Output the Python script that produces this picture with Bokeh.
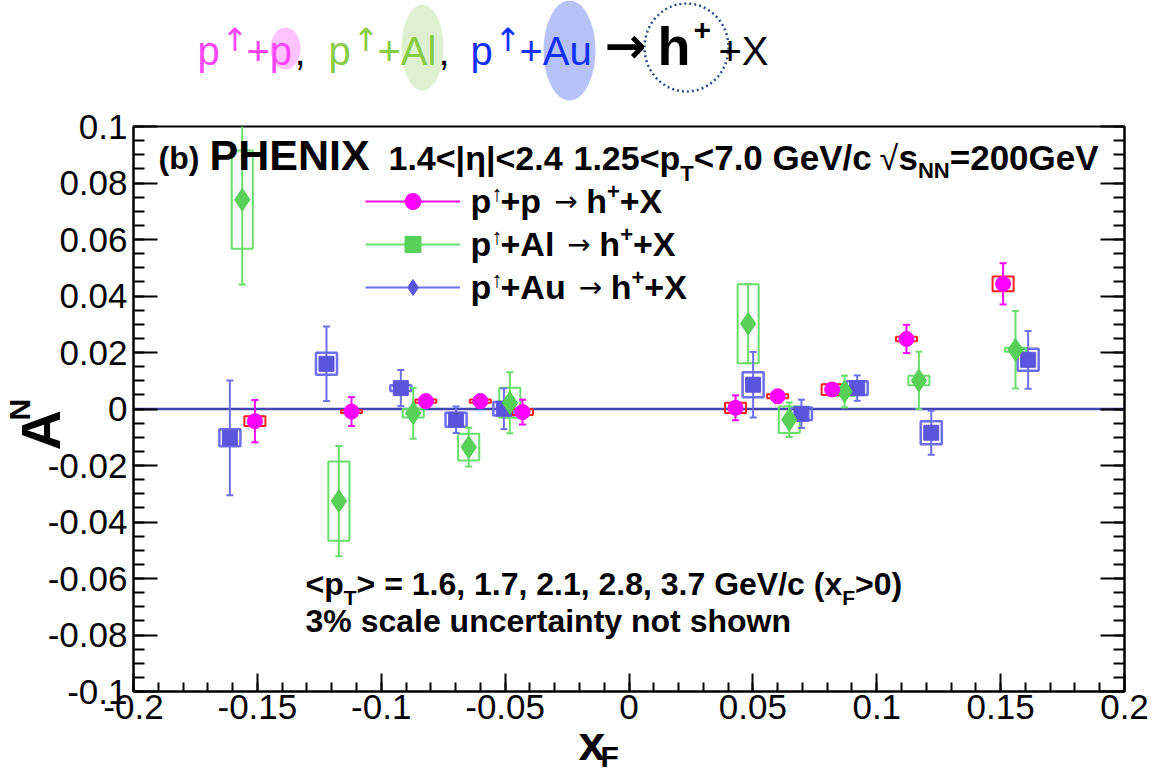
import numpy as np
from bokeh.plotting import figure
from bokeh.models import (Range1d, LinearAxis, FixedTicker, ColumnDataSource,
                          Label, Legend, LegendItem, Span, Title)
from bokeh.layouts import column
from bokeh.embed import file_html
from bokeh.resources import INLINE
from bokeh.core.properties import value

# ---------------- data ----------------
# p(up)+p -> h+ X
pp_x = [-0.151, -0.112, -0.082, -0.060, -0.043, 0.043, 0.060, 0.082, 0.112, 0.151]
pp_y = [-0.0043, -0.0009, 0.0028, 0.0028, -0.0011, 0.0004, 0.0045, 0.0069, 0.0248, 0.0443]
pp_stat = [0.0075, 0.0051, 0.0022, 0.0022, 0.0044, 0.0044, 0.0022, 0.0022, 0.0050, 0.0073]
pp_sys = [0.0017, 0.0005, 0.0006, 0.0006, 0.0010, 0.0018, 0.0007, 0.0019, 0.0008, 0.0026]

# p(up)+Al -> h+ X
al_x = [-0.1561, -0.1171, -0.0871, -0.0647, -0.0481, 0.0481, 0.0647, 0.0870, 0.1170, 0.1560]
al_y = [0.0741, -0.0326, -0.0015, -0.0135, 0.0022, 0.0302, -0.0038, 0.0062, 0.0101, 0.0210]
al_stat = [0.0300, 0.0195, 0.0090, 0.0069, 0.0108, 0.0140, 0.0061, 0.0056, 0.0102, 0.0137]
al_sys = [0.0174, 0.0140, 0.0015, 0.0047, 0.0053, 0.0140, 0.0047, 0.0015, 0.0017, 0.0007]

# p(up)+Au -> h+ X
au_x = [-0.1611, -0.1221, -0.0921, -0.0698, -0.0505, 0.0501, 0.0696, 0.0921, 0.1220, 0.1611]
au_y = [-0.0102, 0.0160, 0.0074, -0.0038, 0.0001, 0.0086, -0.0017, 0.0074, -0.0084, 0.0174]
au_stat = [0.0203, 0.0132, 0.0064, 0.0047, 0.0072, 0.0116, 0.0050, 0.0045, 0.0078, 0.0102]
au_sys = [0.0030, 0.0039, 0.0010, 0.0025, 0.0024, 0.0044, 0.0022, 0.0024, 0.0041, 0.0039]

x_ticks = [-0.2, -0.15, -0.1, -0.05, 0, 0.05, 0.1, 0.15, 0.2]
x_tick_labels = ["-0.2", "-0.15", "-0.1", "-0.05", "0", "0.05", "0.1", "0.15", "0.2"]
y_ticks = [-0.1, -0.08, -0.06, -0.04, -0.02, 0, 0.02, 0.04, 0.06, 0.08, 0.1]
y_tick_labels = ["-0.1", "-0.08", "-0.06", "-0.04", "-0.02", "0", "0.02", "0.04",
                 "0.06", "0.08", "0.1"]
x_minor = [round(v, 3) for v in np.arange(-0.2, 0.2001, 0.01)]
y_minor = [round(v, 4) for v in np.arange(-0.1, 0.1001, 0.005)]

legend_targets = ["p", "Al", "Au"]

# ---------------- styles ----------------
FONT = "Liberation Sans"
AFONT = "DejaVu Sans"
PINK = "#ff00ff"
RED = "#ff2020"
GREEN_M = "#58d058"
GREEN_L = "#6ade6a"
BLUE_M = "#5a55dc"
BLUE_L = "#6e6eee"
ZERO = "#4646b0"
BOXW = 0.0085
HDR_H = 104

# frame geometry (pixels of the page)
FL, FR, FT, FB = 133, 1124, 126, 691


def DX(px):
    return -0.2 + 0.4 * (px - FL) / (FR - FL)


def DY(py):
    return 0.1 - 0.2 * (py - FT) / (FB - FT)


MID = 0.3465  # baseline -> middle of text box, in em

BW = {' ': .278, '(': .333, ')': .333, 'b': .611, '.': .278, '<': .584, '>': .584, '=': .584,
      '|': .280, '\u03b7': .611, 'p': .611, 'T': .611, 'G': .778, 'e': .556, 'V': .667,
      '/': .278, 'c': .556, 's': .556, 'N': .722, 'F': .611, 'x': .556, ',': .278, '%': .889,
      'A': .722, 'l': .278, 'u': .611, 'h': .611, '+': .584, 'X': .667}


def bwidth(t, size):
    return sum(BW.get(ch, .556) for ch in t) * size


# ---------------- header figure ----------------
hdr = figure(width=1174, height=HDR_H, x_range=Range1d(FL, FR), y_range=Range1d(HDR_H, 0),
             output_backend="svg", toolbar_location=None, x_axis_type=None, y_axis_type=None,
             min_border=0)
hdr.outline_line_color = None
hdr.grid.visible = False

hdr.ellipse(x=[285], y=[48], width=[30], height=[42], fill_color="#ffc4ff", line_color=None)
hdr.ellipse(x=[422], y=[47], width=[42], height=[86], fill_color="#dff0d0", line_color=None)
hdr.ellipse(x=[569], y=[50], width=[52], height=[100], fill_color="#b6c2f8", line_color=None)
hdr.ellipse(x=[686], y=[47], width=[84], height=[88], fill_color=None, line_color="#2f4f86",
            line_width=2.5, line_dash="2 3")

# letters
h_x = [197, 246, 294, 328, 377, 438, 470, 519, 657, 693, 718]
h_base = [64, 64, 64, 64, 64, 64, 64, 64, 64, 40, 64]
h_t = ["p", "+p", ",", "p", "+Al", ",", "p", "+Au", "h", "+", "+X"]
h_c = ["#ff44ff", "#ff44ff", "black", "#88cc44", "#88cc44", "black",
       "#1030ff", "#1030ff", "black", "black", "black"]
h_s = [40, 40, 40, 40, 40, 40, 40, 40, 54, 30, 40]
h_st = ["normal"] * 8 + ["bold", "bold", "normal"]
hsrc = ColumnDataSource(dict(
    x=h_x, y=[b - MID * s for b, s in zip(h_base, h_s)], t=h_t, c=h_c,
    s=["%dpx" % s for s in h_s], st=h_st))
hdr.text(x="x", y="y", text="t", text_color="c", text_font_size="s", text_font_style="st",
         text_font=value(FONT), text_baseline="middle", text_align="left", source=hsrc)

# arrows
a_x = [221, 352, 494, 604]
a_base = [52, 52, 52, 64]
a_t = ["\u2191", "\u2191", "\u2191", "\u2192"]
a_c = ["#ff44ff", "#88cc44", "#1030ff", "black"]
a_s = [32, 32, 32, 50]
a_st = ["normal", "normal", "normal", "bold"]
asrc = ColumnDataSource(dict(
    x=a_x, y=[b - 0.38 * s for b, s in zip(a_base, a_s)], t=a_t, c=a_c,
    s=["%dpx" % s for s in a_s], st=a_st))
hdr.text(x="x", y="y", text="t", text_color="c", text_font_size="s", text_font_style="st",
         text_font=value(AFONT), text_baseline="middle", text_align="left", source=asrc)

# ---------------- main figure ----------------
p = figure(width=1174, height=781 - HDR_H, x_range=Range1d(-0.2, 0.2), y_range=Range1d(-0.1, 0.1),
           output_backend="svg", toolbar_location=None,
           min_border_left=FL, min_border_right=1174 - FR, min_border_top=FT - HDR_H,
           min_border_bottom=781 - FB)
p.grid.visible = False
p.outline_line_color = "black"
p.outline_line_width = 2

xo = {t: l for t, l in zip(x_ticks, x_tick_labels)}
yo = {t: l for t, l in zip(y_ticks, y_tick_labels)}

for ax in p.xaxis:
    ax.ticker = FixedTicker(ticks=x_ticks, minor_ticks=x_minor)
    ax.major_label_overrides = xo
for ax in p.yaxis:
    ax.ticker = FixedTicker(ticks=y_ticks, minor_ticks=y_minor)
    ax.major_label_overrides = yo

right = LinearAxis(ticker=FixedTicker(ticks=y_ticks, minor_ticks=y_minor),
                   major_label_text_font_size="0px", major_label_text_alpha=0)
p.add_layout(right, "right")

for ax in p.xaxis:
    ax.major_tick_in = 18
    ax.major_tick_out = 0
    ax.minor_tick_in = 9
    ax.minor_tick_out = 0
    ax.major_label_standoff = 3
    ax.axis_label = " "
    ax.axis_label_text_font_size = "2px"
    ax.axis_label_standoff = 8
for ax in list(p.yaxis):
    ax.major_tick_in = 24
    ax.major_tick_out = 0
    ax.minor_tick_in = 11
    ax.minor_tick_out = 0
    ax.major_label_standoff = 6
for ax in list(p.xaxis) + list(p.yaxis):
    ax.axis_line_color = "black"
    ax.axis_line_width = 2
    ax.major_tick_line_width = 2
    ax.minor_tick_line_width = 2
    ax.major_tick_line_color = "black"
    ax.minor_tick_line_color = "black"
    ax.major_label_text_font = FONT
    ax.major_label_text_font_size = "35px"
    ax.major_label_text_color = "black"
right.major_label_text_font_size = "0px"

p.add_layout(Span(location=0, dimension="width", line_color=ZERO, line_width=2.5, level="underlay"))


def make_src(xs, ys, st, sy):
    return ColumnDataSource(dict(
        x=xs, y=ys,
        lo=[a - b for a, b in zip(ys, st)],
        hi=[a + b for a, b in zip(ys, st)],
        h=[2 * s for s in sy]))


pp_src = make_src(pp_x, pp_y, pp_stat, pp_sys)
al_src = make_src(al_x, al_y, al_stat, al_sys)
au_src = make_src(au_x, au_y, au_stat, au_sys)

# systematic boxes
p.rect("x", "y", width=BOXW, height="h", source=au_src, fill_color=None, line_color=BLUE_L, line_width=2.5)
p.rect("x", "y", width=BOXW, height="h", source=al_src, fill_color=None, line_color=GREEN_L, line_width=2)
p.rect("x", "y", width=BOXW, height="h", source=pp_src, fill_color=None, line_color=RED, line_width=2)


def errs(src, col):
    seg = p.segment("x", "lo", "x", "hi", source=src, line_color=col, line_width=2)
    p.scatter("x", "lo", marker="dash", size=7, line_color=col, line_width=2, source=src)
    p.scatter("x", "hi", marker="dash", size=7, line_color=col, line_width=2, source=src)
    return seg


au_seg = errs(au_src, BLUE_L)
al_seg = errs(al_src, GREEN_L)
pp_seg = errs(pp_src, PINK)

au_m = p.scatter("x", "y", marker="square", size=15, fill_color=BLUE_M, line_color=BLUE_M, source=au_src)
al_m = p.scatter("x", "y", marker="diamond", size=23, fill_color=GREEN_M, line_color=GREEN_M, source=al_src)
pp_m = p.scatter("x", "y", marker="circle", size=15, fill_color=PINK, line_color=PINK, source=pp_src)

# legend glyphs (markers as drawn in the original legend)
lg_al = p.scatter(x=[np.nan], y=[np.nan], marker="square", size=15, fill_color=GREEN_M, line_color=GREEN_M)
lg_au = p.scatter(x=[np.nan], y=[np.nan], marker="diamond", size=15, fill_color=BLUE_M, line_color=BLUE_M)
legend = Legend(items=[LegendItem(label=" ", renderers=[pp_seg, pp_m]),
                       LegendItem(label=" ", renderers=[al_seg, lg_al]),
                       LegendItem(label=" ", renderers=[au_seg, lg_au])],
                location=(365 - FL, FB - 307), orientation="vertical",
                border_line_color=None, background_fill_alpha=0, padding=0, margin=0,
                spacing=3, glyph_width=95, glyph_height=40, label_height=40, label_standoff=12,
                label_text_font=FONT, label_text_font_size="10px", label_width=10)
p.add_layout(legend, "center")


def lab(px, base, t, size, style="bold", color="black", font=FONT, mid=MID):
    p.add_layout(Label(x=DX(px), y=DY(base - mid * size), text=t, text_font=font,
                       text_font_size="%dpx" % size, text_font_style=style, text_color=color,
                       text_baseline="middle", text_align="left"))


def chain(px, base, pieces):
    for t, size, dy, style in pieces:
        lab(px, base + dy, t, size, style)
        px += bwidth(t, size)


# legend texts
for row, tgt in enumerate(legend_targets):
    b = 212 + 43 * row
    lab(470, b, "p", 34)
    lab(491, b - 11, "\u2191", 22, style="normal")
    lab(500, b, "+" + tgt, 34)
    ax0 = 500 + bwidth("+" + tgt, 34) + 13
    lab(ax0, b, "\u2192", 28, style="normal", font=AFONT, mid=0.38)
    chain(ax0 + 32, b, [("h", 34, 0, "bold"), ("+", 22, -13, "bold"), ("+X", 34, 0, "bold")])

# texts inside the frame
lab(158, 169, "(b)", 32)
lab(209, 169, "PHENIX", 43)
lab(388, 169, "1.4<|\u03b7|<2.4", 34)
chain(573, 169, [("1.25<p", 34, 0, "bold"), ("T", 22, 12, "bold"), ("<7.0 GeV/c", 35, 0, "bold")])
lab(879, 169, "\u221a", 34, style="normal")
chain(898, 169, [("s", 35, 0, "bold"), ("NN", 22, 9, "bold"), ("=200GeV", 35, 0, "bold")])

chain(305, 595, [("<p", 32, 0, "bold"), ("T", 21, 9, "bold"),
                 ("> = 1.6, 1.7, 2.1, 2.8, 3.7 GeV/c (x", 32, 0, "bold"), ("F", 21, 9, "bold"),
                 (">0)", 32, 0, "bold")])
lab(305, 632, "3% scale uncertainty not shown", 32)

# axis titles (outside the frame, as side titles)
p.add_layout(Title(text="A", align="left", vertical_align="bottom", offset=FB - 450, standoff=-54,
                   text_font=FONT, text_font_size="56px", text_font_style="bold",
                   text_color="black"), "left")
p.add_layout(Title(text="N", align="left", vertical_align="bottom", offset=FB - 420, standoff=-5,
                   text_font=FONT, text_font_size="30px", text_font_style="bold",
                   text_color="black"), "left")
p.add_layout(Title(text="x", align="left", vertical_align="top", offset=578 - FL, standoff=-36,
                   text_font=FONT, text_font_size="48px", text_font_style="bold",
                   text_color="black"), "below")
p.add_layout(Title(text="F", align="left", vertical_align="top", offset=600 - FL, standoff=-27,
                   text_font=FONT, text_font_size="30px", text_font_style="bold",
                   text_color="black"), "below")

layout = column(hdr, p, spacing=0)
open("out.html", "w").write(file_html(layout, INLINE))
